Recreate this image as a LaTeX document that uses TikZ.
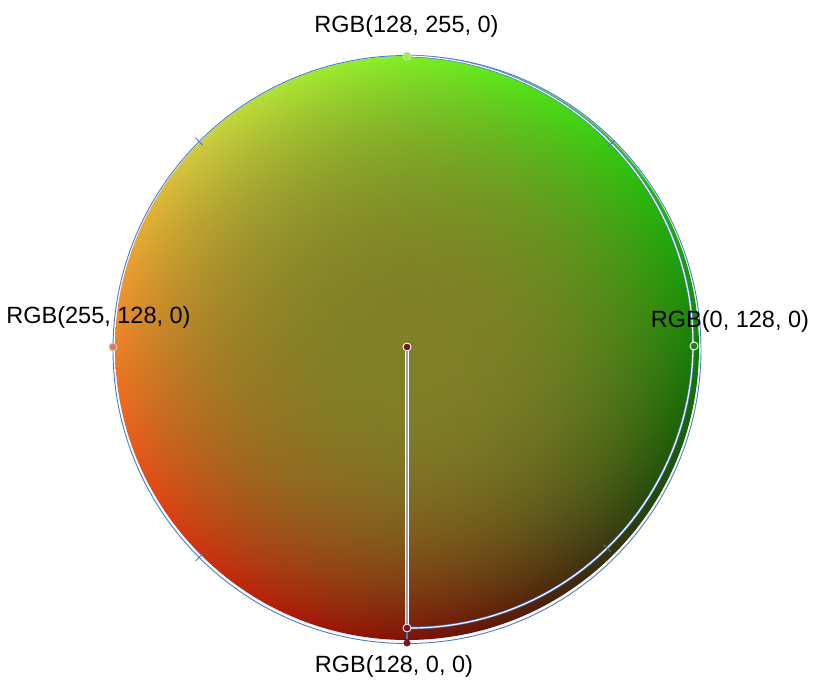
\documentclass[tikz,border=0pt]{standalone}
\usepackage{fontspec}
\setmainfont{Liberation Sans}
\usepackage{tikz}
\usetikzlibrary{calc}
\definecolor{rimblue}{RGB}{76,122,200}
\definecolor{stemblue}{RGB}{150,162,202}
\definecolor{limegreen}{RGB}{150,240,70}
\definecolor{orangeA}{RGB}{225,120,80}
\definecolor{greenA}{RGB}{40,120,30}
\definecolor{redA}{RGB}{120,20,30}
\pgfdeclarefunctionalshading{rgdisc}{\pgfpoint{0bp}{0bp}}{\pgfpoint{100bp}{100bp}}{}{
  50 sub 25 div exch 50 sub 25 div exch
  2 copy dup mul exch dup mul add sqrt dup sqrt mul
  dup 3 1 roll mul 3 1 roll mul
  -0.5 mul 0.5 add exch 0.5 mul 0.5 add
  0.86 mul 0.07 add exch 0.86 mul 0.07 add exch
  2 copy 2 copy gt {exch} if pop 0.3 mul
}
\tikzset{
  handle/.style={circle,inner sep=0pt,minimum size=8pt,draw=white,line width=0.9pt},
  rimtick/.style={rimblue,line width=0.9pt},
  lbl/.style={font=\fontsize{23.5}{28}\selectfont,anchor=base,inner sep=0pt}
}

\begin{document}
\begin{tikzpicture}[x=1pt,y=-1pt]
    \useasboundingbox (0,0) rectangle (817,682);
    \coordinate (O) at (407,348);
    \coordinate (R) at (407,349.5);
    \shade[shading=rgdisc] (O) circle (292);
    \draw[rimblue,line width=0.9pt] (R) circle (294);
    \draw[rimblue,double=white,double distance=1.1pt,line width=0.7pt]
        plot[domain=90:-90,samples=90] ({407+(286+\x/15)*cos(\x)},{348-(286+\x/15)*sin(\x)});
    \draw[rimtick] ($(R)+(-135:289)$) -- ($(R)+(-135:299)$);
    \draw[rimtick] ($(R)+(135:289)$) -- ($(R)+(135:299)$);
    \draw[rimtick] ($(O)+(-45:284)$) -- ($(O)+(-45:294)$);
    \draw[rimtick] ($(O)+(45:278)$) -- ($(O)+(45:288)$);
    \node[handle,fill=limegreen,draw=white!70!gray] (top) at (407,56) {};
    \node[handle,fill=orangeA,draw=white!60!gray] (left) at (113,347) {};
    \node[handle,fill=greenA] (right) at (694,346) {};
    \node[handle,fill=redA] (mid) at (407,347) {};
    \node[handle,fill=redA] (low) at (407,628) {};
    \node[circle,inner sep=0pt,minimum size=7pt,fill=redA] (rim) at (407,643) {};
    \draw[white,double=stemblue,double distance=2.6pt,line width=0.4pt] (mid) -- (low);
    \draw[rimblue,line width=1.2pt] (low) -- (rim);
    \node[lbl] (ltop) at (406.5,33) {RGB(128, 255, 0)};
    \node[lbl] (lleft) at (98.5,323) {RGB(255, 128, 0)};
    \node[lbl] (lright) at (730,327) {RGB(0, 128, 0)};
    \node[lbl] (lbottom) at (394,672) {RGB(128, 0, 0)};
\end{tikzpicture}
\end{document}
